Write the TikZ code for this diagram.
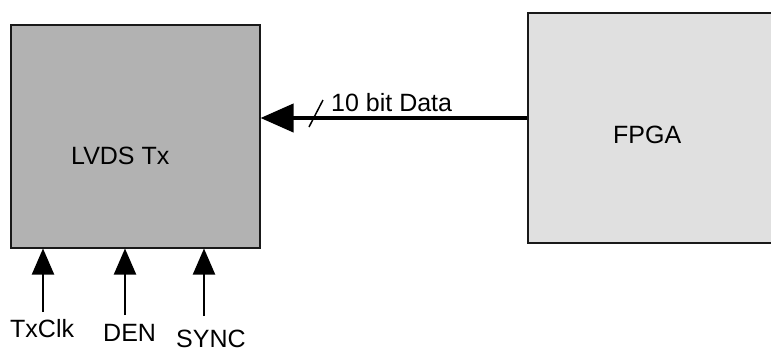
\documentclass[tikz,border=0pt]{standalone}
\usepackage{fontspec}
\setmainfont{Liberation Sans}
\usetikzlibrary{arrows.meta}
\begin{document}
\begin{tikzpicture}[x=1pt,y=-1pt,
  block/.style={draw=black!90, line width=1.5pt, inner sep=0pt, anchor=north west},
  lbl/.style={font=\fontsize{25}{29}\selectfont, inner sep=0pt, anchor=base west},
  bus/.style={line width=4pt, -{Triangle[length=33pt,width=28pt]}},
  ctl/.style={line width=2pt, -{Triangle[length=26pt,width=22pt]}}]
  \useasboundingbox (0,0) rectangle (771,351);
  \clip (0,0) rectangle (771,351);
  % blocks
  \node[block, fill=black!30, minimum width=249pt, minimum height=223pt] (lvds) at (10,24) {};
  \node[block, fill=black!12, minimum width=270pt, minimum height=230pt] (fpga) at (527,12) {};
  \node[lbl] (lvdstxt) at (71,164) {LVDS Tx};
  \node[lbl] (fpgatxt) at (613,143) {FPGA};
  % data bus
  \coordinate (dsrc) at (527,118);
  \draw[bus] (dsrc) -- (dsrc -| lvds.east);
  \draw[line width=1.5pt] (309,127) -- (323,100);
  \node[lbl] (buslbl) at (331,111) {10 bit Data};
  % control inputs
  \coordinate (clk) at (43,312);
  \coordinate (den) at (125,315);
  \coordinate (sync) at (204,316);
  \draw[ctl] (clk) -- (clk |- lvds.south);
  \draw[ctl] (den) -- (den |- lvds.south);
  \draw[ctl] (sync) -- (sync |- lvds.south);
  \node[lbl] (clktxt) at (10,337) {TxClk};
  \node[lbl] (dentxt) at (103,341) {DEN};
  \node[lbl] (synctxt) at (176,347) {SYNC};
\end{tikzpicture}
\end{document}
